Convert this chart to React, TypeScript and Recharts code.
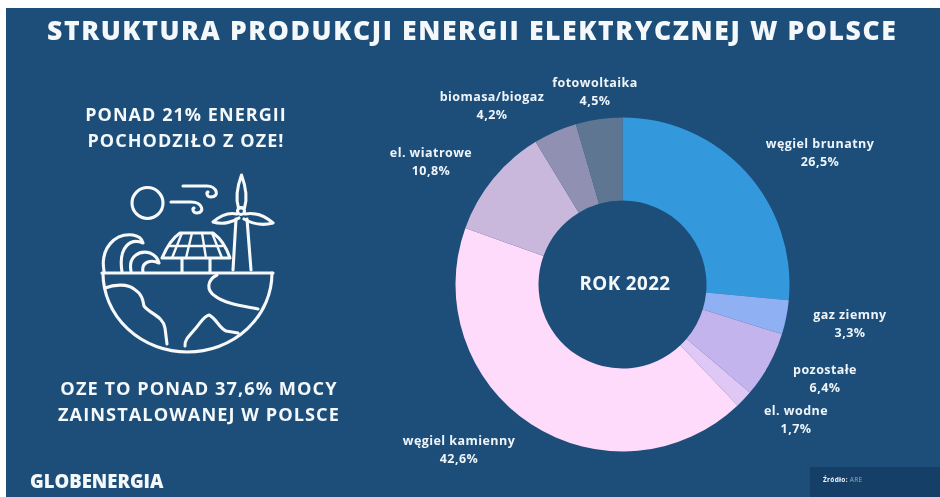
import React from "react";
import { PieChart, Pie, Cell } from "recharts";

const categories = ["węgiel brunatny", "gaz ziemny", "pozostałe", "el. wodne", "węgiel kamienny", "el. wiatrowe", "biomasa/biogaz", "fotowoltaika"];
const shares = [26.5, 3.3, 6.4, 1.7, 42.6, 10.8, 4.2, 4.5];
const colors = ["#3498dc", "#8fb0f2", "#c3b4ee", "#dfc8f6", "#fedbfb", "#c9b7dc", "#8f90b2", "#5f7692"];
const data = categories.map((name, i) => ({ name, value: shares[i] }));

// label centres, in chart coordinates (chart origin is page 6,8)
const labelCentres: [number, number][] = [
  [814, 136], [844, 307], [819, 362], [790, 403], [453, 433], [425, 145], [486, 89], [589, 75],
];

const BG = "#1c4e79";
const font = "'Open Sans', sans-serif";

function SliceLabel(props: any) {
  const [x, y] = labelCentres[props.index];
  const pct = shares[props.index].toFixed(1).replace(".", ",") + "%";
  return (
    <text x={x} y={y} textAnchor="middle" fill="#eef4fa" fontFamily={font} fontSize={12.5} fontWeight={700} letterSpacing={0.45}>
      <tspan x={x} dy={4}>{categories[props.index]}</tspan>
      <tspan x={x} dy={18}>{pct}</tspan>
    </text>
  );
}

const textStyle = (left: number, top: number, width: number, size: number, spacing: number, weight = 700): React.CSSProperties => ({
  position: "absolute", left, top, width, textAlign: "center", fontFamily: font, fontSize: size,
  fontWeight: weight, letterSpacing: spacing, color: "#f4f8fb", whiteSpace: "nowrap", lineHeight: "1",
});

function Icon() {
  return (
    <svg width={934} height={489} viewBox="6 8 934 489" style={{ position: "absolute", left: 0, top: 0 }}>
      <g fill="none" stroke="#f6f8fa" strokeWidth={3.1} strokeLinecap="round" strokeLinejoin="round">
        <circle cx={147.5} cy={203} r={15.5} />
        <path d="M183 186 H207 C217 186 220 197 211 197 C207 197 206 193 208 192" />
        <path d="M171 202 H191 C203 202 205 213 197 213 C193 213 192 209 194 208" />
        <path d="M241.5 175 C247 190 247 200 244.5 208 H238.5 C236 200 236 190 241.5 175 Z" />
        <path d="M237 214 C228 212 221 215 213 222 C223 225 233 222 239 218" />
        <path d="M245 214 C255 212 265 216 273 223 C262 226 251 223 244 219" />
        <circle cx={241} cy={211} r={3.5} />
        <path d="M236 219 L233 270 M247 219 L251 270" />
        <path d="M162 258 C168 244 174 237 180 233 H213 C220 238 226 246 230 258 Z" />
        <path d="M170 246 H222 M192 233 L186 258 M202 233 L206 258 M212 233 L222 258 M182 233 L172 258" strokeWidth={2.4} />
        <path d="M182 259 V272 M210 259 V272" />
        <path d="M102 273 H273" />
        <path d="M103 273 A84.5 79 0 0 0 272 273" />
        <path d="M104 271 C100 248 115 233 133 235 C139 236 142 239 143 243 C131 238 118 246 122 272" />
        <path d="M131 271 C128 256 140 250 150 253 C155 255 158 259 159 263 C151 259 141 262 143 272" />
        <path d="M105 288 C115 284 128 284 134 289 C142 294 143 300 144 306 C150 314 163 316 165 328 L167 344" />
        <path d="M217 275 C207 280 206 290 215 296 C225 304 243 306 258 309" />
        <path d="M185 346 C184 340 190 335 196 328 C201 322 204 316 209 315 C216 318 219 328 226 331 L238 333" />
      </g>
    </svg>
  );
}

export default function App() {
  return (
    <div style={{ position: "fixed", left: 6, top: 8, width: 934, height: 489, background: BG, overflow: "hidden", filter: "blur(0.7px)" }}>
      <div style={textStyle(41, 9, 849, 26.5, 1.6, 800)}>STRUKTURA PRODUKCJI ENERGII ELEKTRYCZNEJ W POLSCE</div>
      <div style={textStyle(60, 97, 240, 18, 1.05)}>PONAD 21% ENERGII</div>
      <div style={textStyle(60, 123, 240, 18, 1.05)}>POCHODZIŁO Z OZE!</div>
      <div style={textStyle(33, 371, 320, 18.2, 1.05)}>OZE TO PONAD 37,6% MOCY</div>
      <div style={textStyle(33, 397, 320, 18.2, 1.05)}>ZAINSTALOWANEJ W POLSCE</div>
      <div style={{ ...textStyle(24, 464, 140, 18.5, 0, 800), textAlign: "left" }}>GLOBENERGIA</div>
      <Icon />
      <div style={{ position: "absolute", left: 804, top: 459, width: 130, height: 30, background: "#163f68" }} />
      <div style={{ ...textStyle(817, 469, 60, 6.5, 0.3), textAlign: "left" }}>
        Źródło: <span style={{ fontWeight: 400, opacity: 0.55 }}>ARE</span>
      </div>
      <div style={{ position: "absolute", left: 0, top: 0 }}>
        <PieChart width={934} height={489} margin={{ top: 0, right: 0, bottom: 0, left: 0 }}>
          <Pie
            data={data}
            dataKey="value"
            nameKey="name"
            cx={616.5}
            cy={276.5}
            innerRadius={84}
            outerRadius={167}
            startAngle={90}
            endAngle={-270}
            stroke="none"
            isAnimationActive={false}
            labelLine={false}
            label={SliceLabel}
          >
            {data.map((d, i) => <Cell key={d.name} fill={colors[i]} />)}
          </Pie>
        </PieChart>
      </div>
      <div style={textStyle(559, 266, 120, 18.8, 0.4)}>ROK 2022</div>
    </div>
  );
}
